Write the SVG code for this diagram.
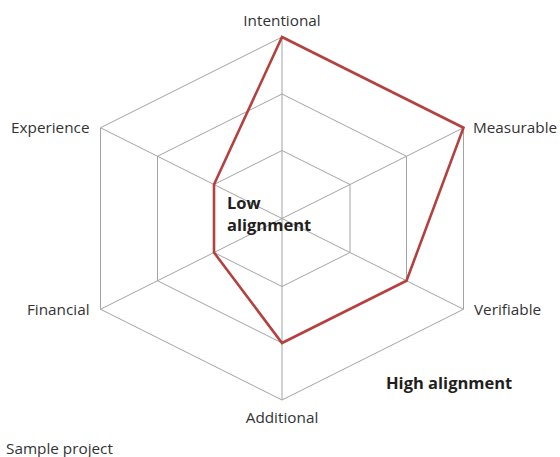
<svg xmlns="http://www.w3.org/2000/svg" width="560" height="457" viewBox="0 0 560 457">
<style>
.grid{fill:none;stroke:#a3a3a3;stroke-width:1}
.data{fill:none;stroke:#b5413f;stroke-width:2.6;stroke-linejoin:miter}
.lbl{font-family:"Open Sans","Noto Sans",sans-serif;font-size:15.3px;fill:#333333}
.bold{font-family:"Open Sans","Noto Sans",sans-serif;font-size:16.5px;font-weight:bold;fill:#231f20}
</style>
<rect width="560" height="457" fill="#ffffff"/>
<g id="grid">
<polygon class="grid" points="282,150.5 350,184.5 350,252.5 282,286.5 214,252.5 214,184.5"/>
<polygon class="grid" points="282,94 406.5,156.25 406.5,280.75 282,343 157.5,280.75 157.5,156.25"/>
<polygon class="grid" points="282,37 463.5,127.75 463.5,309.25 282,400 100.5,309.25 100.5,127.75"/>
<g id="connectors">
<line class="grid" x1="282" y1="218.5" x2="282" y2="37"/>
<line class="grid" x1="282" y1="218.5" x2="463.5" y2="127.75"/>
<line class="grid" x1="282" y1="218.5" x2="463.5" y2="309.25"/>
<line class="grid" x1="282" y1="218.5" x2="282" y2="400"/>
<line class="grid" x1="282" y1="218.5" x2="100.5" y2="309.25"/>
<line class="grid" x1="282" y1="218.5" x2="100.5" y2="127.75"/>
</g>
</g>
<g id="series">
<polygon class="data" points="282,37 463.5,127.75 406.5,280.75 282,343 214,252.5 214,184.5"/>
</g>
<g id="label-intentional"><text class="lbl" x="282" y="26" text-anchor="middle">Intentional</text></g>
<g id="label-measurable"><text class="lbl" x="473" y="133">Measurable</text></g>
<g id="label-verifiable"><text class="lbl" x="474" y="315">Verifiable</text></g>
<g id="label-additional"><text class="lbl" x="282" y="423" text-anchor="middle">Additional</text></g>
<g id="label-financial"><text class="lbl" x="89.5" y="315" text-anchor="end">Financial</text></g>
<g id="label-experience"><text class="lbl" x="89.5" y="133" text-anchor="end">Experience</text></g>
<g id="label-low"><text class="bold" x="227" y="209">Low</text><text class="bold" x="227" y="231">alignment</text></g>
<g id="label-high"><text class="bold" x="386" y="389">High alignment</text></g>
<g id="label-sample"><text class="lbl" x="6" y="454">Sample project</text></g>
</svg>
